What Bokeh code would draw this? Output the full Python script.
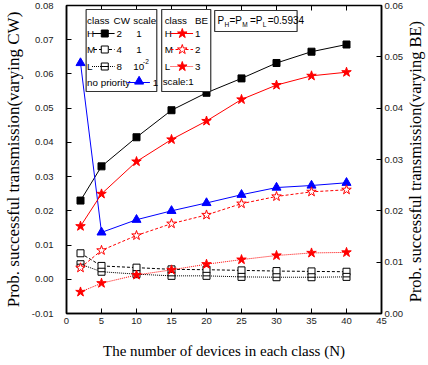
import math
from bokeh.plotting import figure
from bokeh.layouts import row
from bokeh.models import Range1d, LinearAxis, FixedTicker, PrintfTickFormatter
from bokeh.core.properties import value
from bokeh.embed import file_html
from bokeh.resources import INLINE

# ---------------- data ----------------
N = [2, 5, 10, 15, 20, 25, 30, 35, 40]
cw_H = [0.0230, 0.0330, 0.0415, 0.0494, 0.0545, 0.0587, 0.0632, 0.0665, 0.0686]
cw_M = [0.0076, 0.0039, 0.0034, 0.0029, 0.0028, 0.0026, 0.0024, 0.0023, 0.0022]
cw_L = [0.0044, 0.0022, 0.0015, 0.0010, 0.0010, 0.0007, 0.0006, 0.0006, 0.0007]
no_prio = [0.0632, 0.0137, 0.0174, 0.0200, 0.0223, 0.0247, 0.0268, 0.0274, 0.0282]
be_H = [0.0170, 0.0233, 0.0296, 0.0339, 0.0375, 0.0417, 0.0445, 0.0463, 0.0470]
be_M = [0.0089, 0.0123, 0.0152, 0.0175, 0.0192, 0.0214, 0.0228, 0.0237, 0.0241]
be_L = [0.0042, 0.0059, 0.0075, 0.0085, 0.0096, 0.0105, 0.0113, 0.0118, 0.0119]

x_ticks = [0, 5, 10, 15, 20, 25, 30, 35, 40, 45]
left_ticks = [i / 100 for i in range(-1, 9)]
right_ticks = [i / 100 for i in range(0, 7)]

X0, X1 = 0, 45
Y0, Y1 = -0.01, 0.08
R0, R1 = 0.0, 0.06

# frame geometry (pixels)
FL, FR, FT, FB = 62, 383, 5, 313
W, H = 428, 365
W_MAIN = 405            # main figure width; the rest holds the right title

def dx(px):
    return X0 + (px - FL) / (FR - FL) * (X1 - X0)

def dy(py):
    return Y1 - (py - FT) / (FB - FT) * (Y1 - Y0)

p = figure(width=W_MAIN, height=H, x_range=Range1d(X0, X1), y_range=Range1d(Y0, Y1),
           output_backend="svg", toolbar_location=None,
           min_border_left=FL, min_border_right=W_MAIN - FR,
           min_border_top=FT, min_border_bottom=H - FB)
p.extra_y_ranges = {"be": Range1d(R0, R1)}
p.xgrid.visible = False
p.ygrid.visible = False
p.outline_line_color = "black"
p.outline_line_width = 1.5
p.background_fill_color = "white"
p.border_fill_color = "white"

right_axis = LinearAxis(y_range_name="be")
p.add_layout(right_axis, "right")

TICK_FONT = "Liberation Sans"
TITLE_FONT = "Liberation Serif"

for ax in [p.xaxis[0], p.yaxis[0], right_axis]:
    ax.axis_line_width = 1.5
    ax.axis_line_color = "black"
    ax.major_tick_in = 5
    ax.major_tick_out = 0
    ax.major_tick_line_color = "black"
    ax.minor_tick_line_color = None
    ax.major_label_text_font = TICK_FONT
    ax.major_label_text_font_size = "9.5px"
    ax.major_label_text_color = "#222222"
    ax.axis_label_text_font = TITLE_FONT
    ax.axis_label_text_font_style = "normal"
    ax.axis_label_text_color = "black"

p.xaxis[0].ticker = FixedTicker(ticks=x_ticks)
p.xaxis[0].axis_label = "The number of devices in each class (N)"
p.xaxis[0].axis_label_text_font_size = "15px"
p.xaxis[0].axis_label_standoff = 16
p.xaxis[0].major_label_standoff = 4

p.yaxis[0].ticker = FixedTicker(ticks=left_ticks)
p.yaxis[0].formatter = PrintfTickFormatter(format="%.2f")
p.yaxis[0].axis_label = "Prob. successful transmission(varying CW)"
p.yaxis[0].axis_label_text_font_size = "17px"
p.yaxis[0].major_label_standoff = 13
p.yaxis[0].axis_label_standoff = 6

right_axis.ticker = FixedTicker(ticks=right_ticks)
right_axis.formatter = PrintfTickFormatter(format="%.2f")
right_axis.major_label_standoff = 3

# top mirrored ticks
p.segment(x0=x_ticks, x1=x_ticks, y0=[Y1] * len(x_ticks),
          y1=[Y1 - 5 * (Y1 - Y0) / (FB - FT)] * len(x_ticks),
          line_color="black", line_width=1)

# ---------------- series ----------------
# CW (left axis)
p.line(N, cw_H, line_color="black", line_width=1)
p.scatter(N, cw_H, marker="square", size=7, fill_color="black", line_color="black")
p.line(N, cw_M, line_color="black", line_width=1, line_dash="3 2")
p.scatter(N, cw_M, marker="square", size=7, fill_color="white", line_color="black")
p.line(N, cw_L, line_color="black", line_width=1, line_dash="1 1")
p.scatter(N, cw_L, marker="square", size=7, fill_color="white", line_color="black")
p.scatter(N, cw_L, marker="dash", size=7, line_color="black")

# no priority (left axis)
p.line(N, no_prio, line_color="blue", line_width=1)
p.scatter(N, no_prio, marker="triangle", size=9, fill_color="blue", line_color="blue")

# BE (right axis)
p.line(N, be_H, line_color="red", line_width=1, y_range_name="be")
p.scatter(N, be_H, marker="star", size=10, fill_color="red", line_color="red", y_range_name="be")
p.line(N, be_M, line_color="red", line_width=1, line_dash="3 2", y_range_name="be")
p.scatter(N, be_M, marker="star", size=10, fill_color="white", line_color="red", y_range_name="be")
p.line(N, be_L, line_color="red", line_width=1, line_dash="1 1", y_range_name="be")
p.scatter(N, be_L, marker="star", size=10, fill_color="red", line_color="red", y_range_name="be")

# ---------------- legend boxes ----------------
p.quad(left=[dx(82), dx(159), dx(213)], right=[dx(154), dx(209), dx(297)],
       top=[dy(9), dy(9), dy(10)], bottom=[dy(91), dy(91), dy(31)],
       fill_color="white", line_color="#333333", line_width=1.2)

LF = value(TICK_FONT)

def txt(xs, ys, texts, size="9.8px", align="left"):
    p.text(x=[dx(v) for v in xs], y=[dy(v) for v in ys], text=texts,
           text_font=LF, text_font_size=size, text_color="black",
           text_baseline="middle", text_align=align)

rows = [33, 49, 66, 82]
# box 1
txt([83, 110, 130], [20, 20, 20], ["class", "CW", "scale"])
txt([83, 83, 83, 83], rows, ["H", "M", "L", "no priority"])
txt([113, 113, 113, 150], rows, ["2", "4", "8", "1"])
txt([133, 133, 130], rows[:3], ["1", "1", "10"])
txt([140], [61], ["-2"], size="6.5px")
p.line([dx(89), dx(111)], [dy(33)] * 2, line_color="black", line_width=1)
p.scatter([dx(101)], [dy(33)], marker="square", size=7, fill_color="black", line_color="black")
p.line([dx(90), dx(111)], [dy(49)] * 2, line_color="black", line_width=1, line_dash="3 2")
p.scatter([dx(101)], [dy(49)], marker="square", size=7, fill_color="white", line_color="black")
p.line([dx(88), dx(111)], [dy(66)] * 2, line_color="black", line_width=1, line_dash="1 1")
p.scatter([dx(101)], [dy(66)], marker="square", size=7, fill_color="white", line_color="black")
p.scatter([dx(101)], [dy(66)], marker="dash", size=7, line_color="black")
p.line([dx(124), dx(147)], [dy(82)] * 2, line_color="blue", line_width=1)
p.scatter([dx(136)], [dy(81)], marker="triangle", size=9, fill_color="blue", line_color="blue")

# box 2
txt([162, 193], [20, 20], ["class", "BE"])
txt([162, 162, 162], rows[:3], ["H", "M", "L"])
txt([193, 193, 193], rows[:3], ["1", "2", "3"])
txt([160], [81], ["scale:1"])
p.line([dx(168), dx(191)], [dy(33)] * 2, line_color="red", line_width=1)
p.scatter([dx(180)], [dy(33)], marker="star", size=10, fill_color="red", line_color="red")
p.line([dx(168), dx(191)], [dy(49)] * 2, line_color="red", line_width=1, line_dash="3 2")
p.scatter([dx(180)], [dy(49)], marker="star", size=10, fill_color="white", line_color="red")
p.line([dx(168), dx(191)], [dy(66)] * 2, line_color="red", line_width=1, line_dash="1 1")
p.scatter([dx(180)], [dy(66)], marker="star", size=10, fill_color="red", line_color="red")

# box 3: P_H=P_M=P_L=0.5934
txt([216, 228, 249, 267], [20, 20, 20, 20], ["P", "=P", "=P", "=0.5934"], size="10px")
txt([223, 241, 262], [24, 24, 24], ["H", "M", "L"], size="6.5px")

# ---------------- right title (separate narrow figure, reads bottom-to-top) ----------------
t = figure(width=W - W_MAIN, height=H, x_range=Range1d(0, 1), y_range=Range1d(0, 1),
           output_backend="svg", toolbar_location=None,
           min_border_left=0, min_border_right=0, min_border_top=0, min_border_bottom=0)
t.axis.visible = False
t.xgrid.visible = False
t.ygrid.visible = False
t.outline_line_color = None
t.background_fill_color = "white"
t.border_fill_color = "white"
t.text(x=[0.45], y=[1 - 185 / H], text=["Prob. successful transmission(varying BE)"],
       angle=math.pi / 2, text_align="center", text_baseline="middle",
       text_font=value(TITLE_FONT), text_font_size="16.5px", text_color="black")

layout = row(p, t, spacing=0)
open("out.html", "w").write(file_html(layout, INLINE))
